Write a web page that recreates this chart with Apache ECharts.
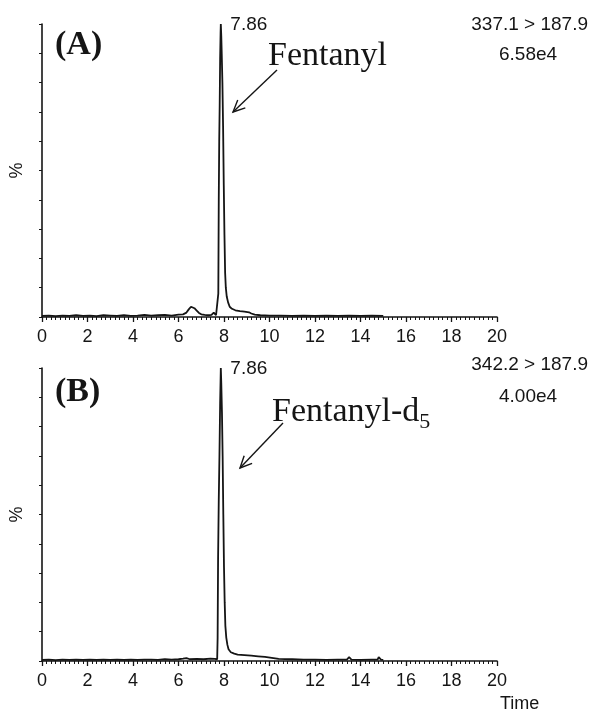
<!DOCTYPE html>
<html>
<head>
<meta charset="utf-8">
<script src="https://cdn.jsdelivr.net/npm/echarts@6/dist/echarts.min.js"></script>
<style>
html,body{margin:0;padding:0;background:#fff;}
#chart{width:593px;height:716px;}
</style>
</head>
<body>
<div id="chart"></div>
<script>
// ---- Data (retention time in min, relative intensity in %) ----
const timesA = [0,0.3,0.6,0.9,1.2,1.5,1.8,2.1,2.4,2.7,3.0,3.3,3.6,3.9,4.2,4.5,4.8,5.1,5.4,5.7,6.0,6.2,6.35,6.45,6.55,6.62,6.7,6.8,6.9,7.0,7.15,7.3,7.45,7.55,7.6,7.65,7.72,7.75,7.77,7.79,7.81,7.83,7.85,7.86,7.88,7.9,7.93,7.96,7.99,8.02,8.05,8.08,8.12,8.18,8.25,8.35,8.5,8.7,8.9,9.1,9.2,9.35,9.6,10.0,10.5,11.0,11.5,12.0,12.5,13.0,13.5,14.0,14.5,15.0];
const valuesA = [0.4,0.5,0.3,0.5,0.4,0.6,0.4,0.5,0.3,0.6,0.5,0.4,0.6,0.4,0.5,0.7,0.5,0.6,0.7,0.5,0.8,0.9,1.5,2.6,3.5,3.6,3.0,2.2,1.4,0.9,0.7,0.6,0.7,1.5,1.7,0.6,0.5,8,40,60,72,88,97,100,96,90,80,65,45,28,15,10,7,5,3.5,2.8,2.3,2.0,1.8,1.6,1.2,0.8,0.6,0.5,0.5,0.4,0.5,0.4,0.5,0.4,0.5,0.4,0.5,0.4];

const timesB = [0,0.3,0.6,0.9,1.2,1.5,1.8,2.1,2.4,2.7,3.0,3.3,3.6,3.9,4.2,4.5,4.8,5.1,5.4,5.7,6.0,6.2,6.35,6.5,6.8,7.1,7.4,7.6,7.7,7.72,7.74,7.77,7.8,7.83,7.86,7.88,7.91,7.94,7.97,8.0,8.03,8.06,8.1,8.15,8.2,8.3,8.45,8.6,8.9,9.2,9.5,9.8,10.1,10.4,11.0,11.5,12.0,12.5,13.0,13.4,13.5,13.6,14.0,14.5,14.75,14.8,14.9,15.0];
const valuesB = [0.4,0.5,0.3,0.5,0.4,0.5,0.4,0.5,0.4,0.5,0.4,0.5,0.4,0.5,0.4,0.5,0.5,0.4,0.6,0.5,0.6,0.8,1.0,0.6,0.7,0.6,0.8,0.7,0.6,8,35,55,70,88,100,95,85,70,50,32,20,12,8,5.5,4,3,2.5,2.2,2.0,1.8,1.6,1.4,1.1,0.7,0.6,0.5,0.5,0.4,0.5,0.5,1.3,0.5,0.4,0.5,0.5,1.3,0.5,0.4];

const xMin = 0, xMax = 20, xStep = 2;
const peakTime = 7.86;
const peakLabelA = '7.86', peakLabelB = '7.86';
const transitionA = '337.1 > 187.9', intensityA = '6.58e4';
const transitionB = '342.2 > 187.9', intensityB = '4.00e4';
const xAxisTitle = 'Time';

// ---- Build chart ----
const chart = echarts.init(document.getElementById('chart'), null, {renderer:'canvas'});
const ink = '#151515';
const sans = 'Liberation Sans, Arial, sans-serif';
const serif = 'Liberation Serif, Times New Roman, serif';

function pairs(t, v){ return t.map((x,i)=>[x, v[i]]); }

const grids = [
  {left:37, top:24, width:460, height:293},
  {left:37, top:368, width:460, height:293}
];

function xAxisDef(i){
  return {
    gridIndex:i, type:'value', min:xMin, max:xMax, interval:xStep,
    axisLine:{show:true, lineStyle:{color:ink, width:1.6}},
    axisTick:{show:true, length:5, lineStyle:{color:ink, width:1.3}},
    minorTick:{show:true, splitNumber:10, length:3, lineStyle:{color:ink, width:1}},
    splitLine:{show:false},
    axisLabel:{color:ink, fontSize:18, fontFamily:sans, margin:11}
  };
}
function yAxisDef(i){
  return {
    gridIndex:i, type:'value', min:0, max:100, interval:10,
    axisLine:{show:true, lineStyle:{color:ink, width:1.6}},
    axisTick:{show:true, length:3, lineStyle:{color:ink, width:1}},
    axisLabel:{show:false},
    splitLine:{show:false},
    name:'%', nameLocation:'middle', nameRotate:90, nameGap:16,
    nameTextStyle:{color:ink, fontSize:18, fontFamily:sans}
  };
}

function seriesDef(i, t, v, lbl){
  return {
    type:'line', xAxisIndex:i, yAxisIndex:i,
    data:pairs(t,v), showSymbol:false, smooth:false,
    lineStyle:{color:ink, width:1.8}, animation:false,
    markPoint:{
      symbol:'circle', symbolSize:1, itemStyle:{color:'transparent'},
      data:[{coord:[peakTime,100]}],
      label:{show:true, formatter:lbl, position:'right', distance:9, offset:[0,1],
             color:ink, fontSize:19, fontFamily:sans}
    }
  };
}

function arrow(x1,y1,x2,y2){
  const dx=x1-x2, dy=y1-y2, L=Math.hypot(dx,dy);
  const ux=dx/L, uy=dy/L, a=25*Math.PI/180, h=13;
  const w1=[x2+h*(ux*Math.cos(a)-uy*Math.sin(a)), y2+h*(ux*Math.sin(a)+uy*Math.cos(a))];
  const w2=[x2+h*(ux*Math.cos(a)+uy*Math.sin(a)), y2+h*(-ux*Math.sin(a)+uy*Math.cos(a))];
  return [
    {type:'line', shape:{x1:x1,y1:y1,x2:x2,y2:y2}, style:{stroke:ink, lineWidth:1.4}},
    {type:'polyline', shape:{points:[w1,[x2,y2],w2]}, style:{stroke:ink, lineWidth:1.4, fill:null}}
  ];
}

const graphics = [
  {type:'text', left:55, top:28, style:{text:'(A)', font:'bold 34px '+serif, fill:ink}},
  {type:'text', left:268, top:39, style:{text:'Fentanyl', font:'34px '+serif, fill:ink}},
  {type:'text', right:5, top:15, style:{text:transitionA, font:'19px '+sans, fill:ink}},
  {type:'text', left:499, top:45, style:{text:intensityA, font:'19px '+sans, fill:ink}},
  {type:'text', left:55, top:375, style:{text:'(B)', font:'bold 34px '+serif, fill:ink}},
  {type:'text', left:272, top:395, style:{
      text:'Fentanyl-d{s|5}', font:'34px '+serif, fill:ink,
      rich:{s:{fontSize:22, fontFamily:serif, verticalAlign:'bottom', padding:[20,0,0,0]}}}},
  {type:'text', right:5, top:355, style:{text:transitionB, font:'19px '+sans, fill:ink}},
  {type:'text', left:499, top:387, style:{text:intensityB, font:'19px '+sans, fill:ink}},
  {type:'text', left:500, top:695, style:{text:xAxisTitle, font:'18px '+sans, fill:ink}}
].concat(arrow(277,70,233,112)).concat(arrow(283,423,240,468));

chart.setOption({
  animation:false,
  backgroundColor:'#fff',
  grid:grids,
  xAxis:[xAxisDef(0), xAxisDef(1)],
  yAxis:[yAxisDef(0), yAxisDef(1)],
  series:[seriesDef(0,timesA,valuesA,peakLabelA), seriesDef(1,timesB,valuesB,peakLabelB)],
  graphic:graphics
});
</script>
</body>
</html>
